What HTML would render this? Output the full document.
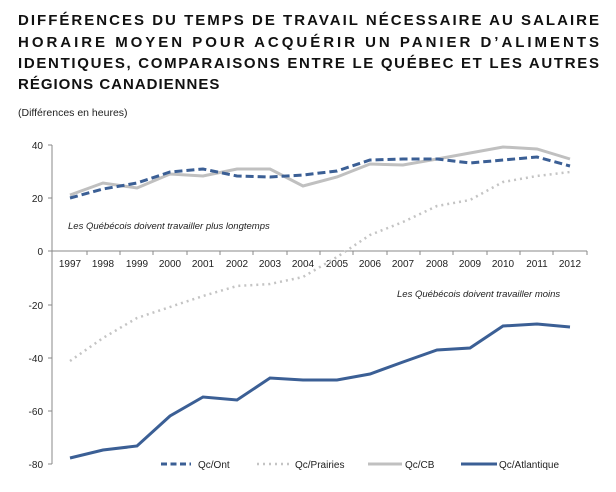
<!DOCTYPE html>
<html><head><meta charset="utf-8"><style>
html,body{margin:0;padding:0;background:#fff;}
svg{display:block;font-family:"Liberation Sans",sans-serif;}
</style></head><body>
<svg width="616" height="492" viewBox="0 0 616 492" xmlns="http://www.w3.org/2000/svg">
<g font-weight="bold" font-size="15" fill="#111" letter-spacing="1">
<text x="18" y="25" textLength="582" lengthAdjust="spacing">DIFFÉRENCES DU TEMPS DE TRAVAIL NÉCESSAIRE AU SALAIRE</text>
<text x="18" y="47" textLength="582" lengthAdjust="spacing">HORAIRE MOYEN POUR ACQUÉRIR UN PANIER D’ALIMENTS</text>
<text x="18" y="68" textLength="582" lengthAdjust="spacing">IDENTIQUES, COMPARAISONS ENTRE LE QUÉBEC ET LES AUTRES</text>
<text x="18" y="89">RÉGIONS CANADIENNES</text>
</g>
<text x="18" y="116" font-size="10.5" fill="#222">(Différences en heures)</text>
<g font-size="10" fill="#222" text-anchor="end">
<text x="43" y="149">40</text><text x="43" y="202">20</text><text x="43" y="255">0</text>
<text x="43" y="309">-20</text><text x="43" y="362">-40</text><text x="43" y="415">-60</text><text x="43" y="468">-80</text>
</g>
<line x1="52" y1="145" x2="52" y2="464" stroke="#888" stroke-width="1"/>
<g stroke="#888" stroke-width="1">
<line x1="48" y1="145" x2="52" y2="145"/><line x1="48" y1="198" x2="52" y2="198"/><line x1="48" y1="251" x2="52" y2="251"/><line x1="48" y1="305" x2="52" y2="305"/><line x1="48" y1="358" x2="52" y2="358"/><line x1="48" y1="411" x2="52" y2="411"/><line x1="48" y1="464" x2="52" y2="464"/>
<line x1="52" y1="251" x2="587" y2="251"/>
<path d="M87 251v4M120 251v4M153 251v4M187 251v4M220 251v4M253 251v4M287 251v4M320 251v4M353 251v4M387 251v4M420 251v4M453 251v4M487 251v4M520 251v4M553 251v4M587 251v4"/>
</g>
<g font-size="10" fill="#222" text-anchor="middle">
<text x="70" y="267">1997</text><text x="103" y="267">1998</text><text x="137" y="267">1999</text><text x="170" y="267">2000</text><text x="203" y="267">2001</text><text x="237" y="267">2002</text><text x="270" y="267">2003</text><text x="303" y="267">2004</text><text x="337" y="267">2005</text><text x="370" y="267">2006</text><text x="403" y="267">2007</text><text x="437" y="267">2008</text><text x="470" y="267">2009</text><text x="503" y="267">2010</text><text x="537" y="267">2011</text><text x="570" y="267">2012</text>
</g>
<g font-size="9.5" font-style="italic" fill="#222">
<text x="68" y="229">Les Québécois doivent travailler plus longtemps</text>
<text x="397" y="297">Les Québécois doivent travailler moins</text>
</g>
<polyline fill="none" stroke="#c0c0c0" stroke-width="3" points="70,195 103,183 137,188 170,174 203,176 237,169 270,169 303,186 337,177 370,164 403,165 437,159 470,153 503,147 537,149 570,159"/>
<polyline fill="none" stroke="#c4c4c4" stroke-width="2.5" stroke-dasharray="2,4" points="70,361 103,338 137,318 170,307 203,296 237,286 270,284 303,277 337,257 370,235 403,222 437,206 470,200 503,182 537,176 570,172"/>
<polyline fill="none" stroke="#3b5f95" stroke-width="3" stroke-dasharray="8,4" points="70,198 103,189 137,183 170,172 203,169 237,176 270,177 303,175 337,171 370,160 403,159 437,159 470,163 503,160 537,157 570,166"/>
<polyline fill="none" stroke="#3b5f95" stroke-width="3" points="70,458 103,450 137,446 170,416 203,397 237,400 270,378 303,380 337,380 370,374 403,362 437,350 470,348 503,326 537,324 570,327"/>
<g font-size="10" fill="#222">
<line x1="161" y1="464" x2="191" y2="464" stroke="#3b5f95" stroke-width="3" stroke-dasharray="6,3.5"/>
<text x="198" y="468">Qc/Ont</text>
<line x1="257" y1="464" x2="290" y2="464" stroke="#c4c4c4" stroke-width="2.5" stroke-dasharray="2,4"/>
<text x="295" y="468">Qc/Prairies</text>
<line x1="368" y1="464" x2="402" y2="464" stroke="#c0c0c0" stroke-width="3"/>
<text x="405" y="468">Qc/CB</text>
<line x1="461" y1="464" x2="497" y2="464" stroke="#3b5f95" stroke-width="3"/>
<text x="499" y="468">Qc/Atlantique</text>
</g>
</svg>
</body></html>
